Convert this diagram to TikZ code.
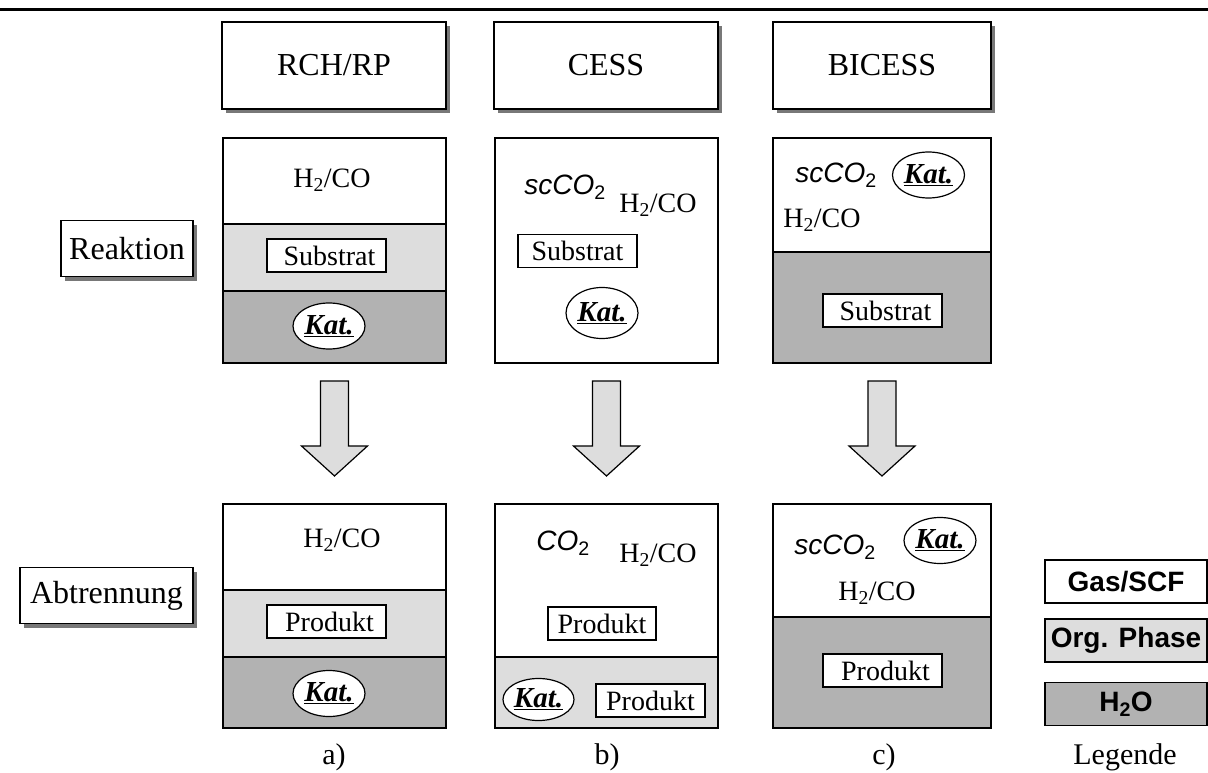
\documentclass[tikz,border=0pt]{standalone}
\usepackage{fontspec}
\setmainfont{Liberation Serif}
\newfontfamily\arialfont{Liberation Sans}
\usetikzlibrary{positioning,shadows,shapes.geometric}
\definecolor{orgcolor}{RGB}{221,221,221}
\definecolor{watercolor}{RGB}{178,178,178}
\definecolor{shadowcolor}{RGB}{120,120,120}
\newcommand{\kat}{\underline{\textbf{\textit{Kat.}}}}
\newcommand{\hco}{H\textsubscript{2}/CO}
\newcommand{\scco}{{\arialfont\itshape scCO\textsubscript{\upshape 2}}}

\begin{document}
\begin{tikzpicture}[x=1pt, y=-1pt,
    every node/.style={font=\fontsize{28}{30}\selectfont, inner sep=0pt},
    shadowbox/.style={draw, line width=1.5pt, fill=white,
      font=\fontsize{32}{34}\selectfont,
      drop shadow={shadow xshift=4pt, shadow yshift=-4pt, fill=shadowcolor, opacity=1}},
    headbox/.style={shadowbox, minimum width=224pt, minimum height=87pt},
    rowbox/.style={shadowbox, minimum height=56pt},
    phase/.style={draw, line width=1.5pt},
    stoffbox/.style={draw, line width=1.2pt, fill=white, minimum width=119pt, minimum height=33pt},
    katoval/.style={ellipse, draw, line width=1.2pt, fill=white, minimum width=72pt, minimum height=46pt,
      font=\fontsize{29}{30}\selectfont},
    legbox/.style={draw, line width=1.5pt, minimum width=162pt, minimum height=43pt,
      font=\fontsize{28}{30}\selectfont\arialfont\bfseries}]
    \useasboundingbox (0,0) rectangle (1208,773);

    % Rule at the top
    \draw[line width=3pt] (0,10) -- (1208,10);

    % Process headers
    \node[headbox] (rch) at (334,65.5) {RCH/RP};
    \node[headbox] (cess) at (606,65.5) {CESS};
    \node[headbox, minimum width=218pt] (bicess) at (882,65.5) {BICESS};

    % Row labels
    \node[rowbox, minimum width=132pt] (reaktion) at (127,248.5) {Reaktion};
    \node[rowbox, minimum width=173pt] (abtrennung) at (106.5,595.5) {Abtrennung};

    % Reaction step: phases
    \draw[phase, fill=white] (223,138) rectangle (446,224);
    \draw[phase, fill=orgcolor] (223,224) rectangle (446,291);
    \draw[phase, fill=watercolor] (223,291) rectangle (446,363);
    \draw[phase, fill=white] (495,138) rectangle (718,363);
    \draw[phase, fill=white] (773,138) rectangle (991,252);
    \draw[phase, fill=watercolor] (773,252) rectangle (991,363);

    % Reaction step: contents
    \node (ra-gas) at (332,180) {\hco};
    \node[stoffbox] (ra-sub) at (326.5,255.5) {\hspace{6pt}Substrat};
    \node[katoval] (ra-kat) at (329,326) {\kat};
    \node (rb-sc) at (565,187) {\scco};
    \node (rb-gas) at (658,205) {\hco};
    \node[stoffbox] (rb-sub) at (577.5,251) {Substrat\hspace{6pt}};
    \node[katoval, minimum height=51pt] (rb-kat) at (602,313) {\kat};
    \node (rc-sc) at (836,175) {\scco};
    \node[katoval] (rc-kat) at (928.5,175) {\kat};
    \node (rc-gas) at (822,220) {\hco};
    \node[stoffbox] (rc-sub) at (882.5,310.5) {\hspace{6pt}Substrat};

    % Block arrows between the steps
    \foreach \x in {334.5,606.5,882} {
      \draw[line width=1.2pt, fill=orgcolor] (\x-14,381) -- (\x+14,381) -- (\x+14,446)
        -- (\x+33,446) -- (\x,476) -- (\x-33,446) -- (\x-14,446) -- cycle;
    }

    % Separation step: phases
    \draw[phase, fill=white] (223,504) rectangle (446,590);
    \draw[phase, fill=orgcolor] (223,590) rectangle (446,657);
    \draw[phase, fill=watercolor] (223,657) rectangle (446,728);
    \draw[phase, fill=white] (495,504) rectangle (718,657);
    \draw[phase, fill=orgcolor] (495,657) rectangle (718,728);
    \draw[phase, fill=white] (773,504) rectangle (991,617);
    \draw[phase, fill=watercolor] (773,617) rectangle (991,728);

    % Separation step: contents
    \node (sa-gas) at (342,540) {\hco};
    \node[stoffbox] (sa-prod) at (326.5,621.5) {\hspace{6pt}Produkt};
    \node[katoval] (sa-kat) at (329,693.5) {\kat};
    \node (sb-co) at (563,543) {{\arialfont\itshape CO\textsubscript{\upshape 2}}};
    \node (sb-gas) at (658,555) {\hco};
    \node[stoffbox, minimum width=108pt] (sb-prod) at (602,623.5) {Produkt};
    \node[katoval, minimum width=71pt, minimum height=42pt] (sb-kat) at (538.5,699.5) {\kat};
    \node[stoffbox, minimum width=109pt] (sb-prod2) at (650.5,700.5) {Produkt};
    \node (sc-sc) at (835,547) {\scco};
    \node[katoval] (sc-kat) at (940,540.5) {\kat};
    \node (sc-gas) at (877,593) {\hco};
    \node[stoffbox] (sc-prod) at (882.5,670.5) {\hspace{6pt}Produkt};

    % Legend
    \node[legbox, fill=white] (leg-gas) at (1126,581.5) {Gas/SCF};
    \node[legbox, fill=orgcolor] (leg-org) at (1126,640.5) {Org. Phase};
    \node[legbox, fill=watercolor] (leg-h2o) at (1126,704) {H\textsubscript{2}O};

    % Captions
    \foreach \x/\lab in {334/a), 607/b), 884/c), 1125/Legende} {
      \node[font=\fontsize{30}{32}\selectfont] (cap-\lab) at (\x,757) {\lab};
    }
\end{tikzpicture}
\end{document}
